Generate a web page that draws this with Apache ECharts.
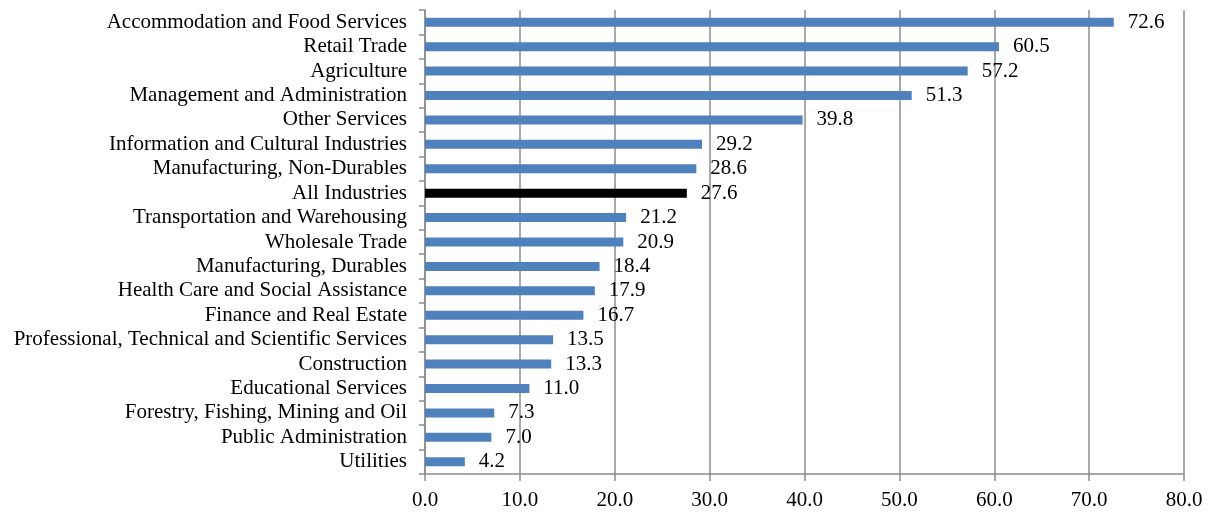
<!DOCTYPE html>
<html>
<head>
<meta charset="utf-8">
<script src="https://cdn.jsdelivr.net/npm/echarts@6/dist/echarts.min.js"></script>
<style>
  html, body { margin: 0; padding: 0; background: #fff; }
  #chart { width: 1211px; height: 513px; }
</style>
</head>
<body>
<div id="chart"></div>
<script>
// Industries, listed bottom to top as the category axis draws them
const industries = [
  'Utilities',
  'Public Administration',
  'Forestry, Fishing, Mining and Oil',
  'Educational Services',
  'Construction',
  'Professional, Technical and Scientific Services',
  'Finance and Real Estate',
  'Health Care and Social Assistance',
  'Manufacturing, Durables',
  'Wholesale Trade',
  'Transportation and Warehousing',
  'All Industries',
  'Manufacturing, Non-Durables',
  'Information and Cultural Industries',
  'Other Services',
  'Management and Administration',
  'Agriculture',
  'Retail Trade',
  'Accommodation and Food Services'
];
const rates = [4.2, 7.0, 7.3, 11.0, 13.3, 13.5, 16.7, 17.9, 18.4, 20.9, 21.2, 27.6, 28.6, 29.2, 39.8, 51.3, 57.2, 60.5, 72.6];
const highlighted = 'All Industries';
const xTicks = { min: 0, max: 80, interval: 10 };

const font = '"Liberation Serif", "Times New Roman", serif';
const chart = echarts.init(document.getElementById('chart'));

chart.setOption({
  animation: false,
  grid: { left: 425, right: 27, top: 10, bottom: 39, containLabel: false },
  xAxis: {
    type: 'value',
    min: xTicks.min,
    max: xTicks.max,
    interval: xTicks.interval,
    axisLine: { show: true, lineStyle: { color: '#8c8c8c', width: 1.5 } },
    axisTick: { show: true, length: 7, lineStyle: { color: '#8c8c8c', width: 1.5 } },
    splitLine: { show: true, lineStyle: { color: '#8c8c8c', width: 1.5 } },
    axisLabel: {
      color: '#000', fontFamily: font, fontSize: 21, margin: 16,
      formatter: v => v.toFixed(1)
    }
  },
  yAxis: {
    type: 'category',
    data: industries,
    axisLine: { show: true, lineStyle: { color: '#8c8c8c', width: 1.5 } },
    axisTick: { show: true, inside: false, length: 6, alignWithLabel: false, lineStyle: { color: '#8c8c8c', width: 1.5 } },
    splitLine: { show: false },
    axisLabel: { color: '#000', fontFamily: font, fontSize: 21, margin: 18, interval: 0 }
  },
  series: [{
    type: 'bar',
    barWidth: 9,
    data: rates.map((v, i) => ({
      value: v,
      itemStyle: { color: industries[i] === highlighted ? '#000000' : '#4f81bd' }
    })),
    label: {
      show: true,
      position: 'right',
      distance: 14,
      color: '#000',
      fontFamily: font,
      fontSize: 21,
      formatter: p => p.value.toFixed(1)
    }
  }]
});
</script>
</body>
</html>
